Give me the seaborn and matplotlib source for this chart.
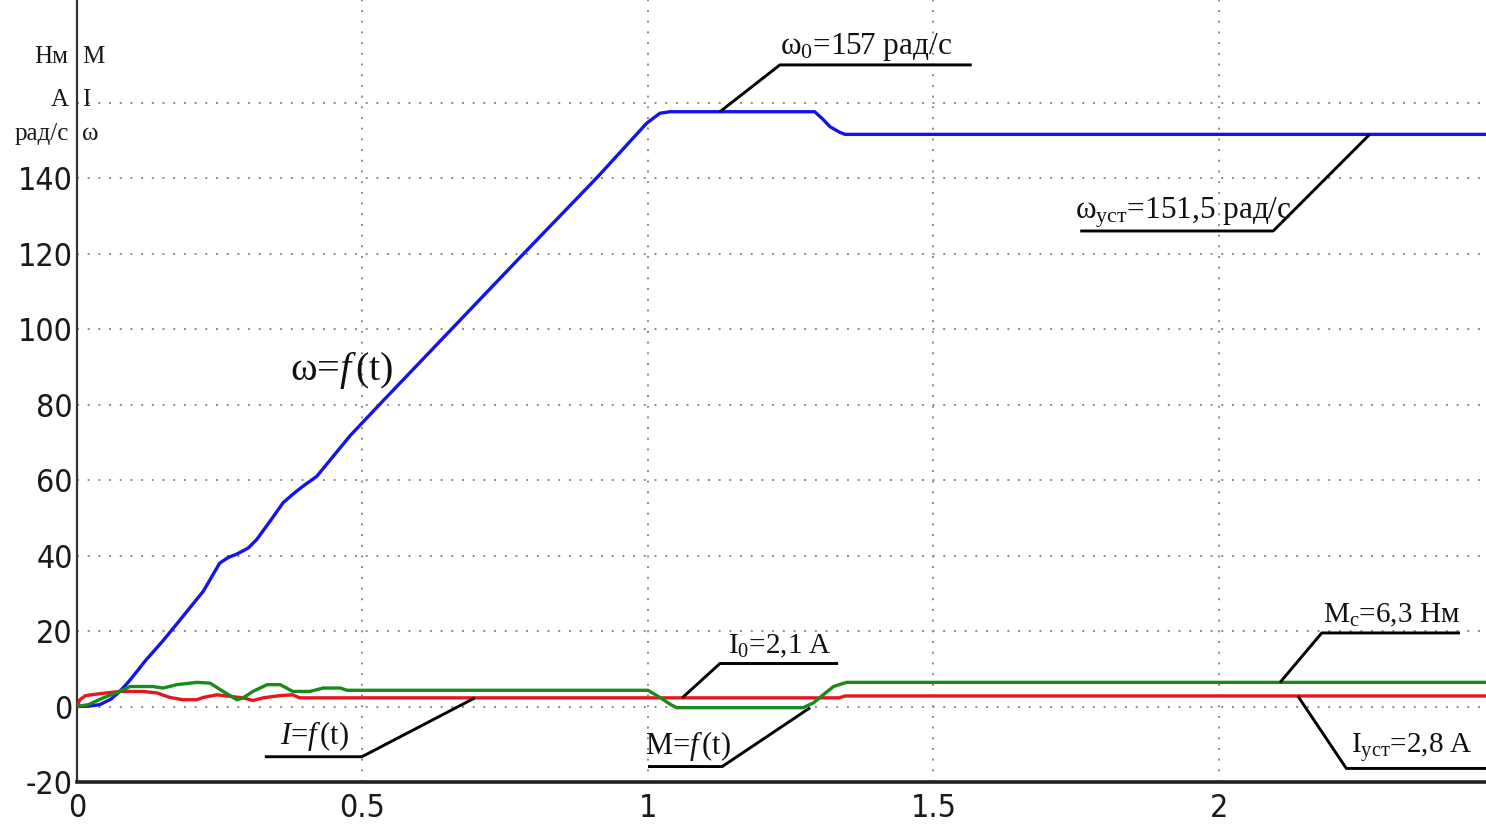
import matplotlib
matplotlib.use("Agg")
import matplotlib.pyplot as plt
import matplotlib.transforms as mtransforms
from matplotlib import font_manager
import numpy as np
import pandas as pd
import seaborn as sns

# ---------------- data ----------------
t_omega = [0, 0.02, 0.04, 0.06, 0.075, 0.09, 0.105, 0.119, 0.151, 0.17, 0.221, 0.25, 0.265,
           0.28, 0.30, 0.315, 0.34, 0.361, 0.38, 0.396, 0.42, 0.478, 0.531, 0.781, 0.911,
           0.998, 1.021, 1.039, 1.292, 1.305, 1.319, 1.335, 1.345, 2.47]
omega = [0, 0.1, 0.5, 2.0, 4.0, 6.5, 9.3, 12.0, 17.5, 21.0, 30.5, 38.0, 39.5,
         40.4, 42.0, 44.3, 49.5, 54.0, 56.5, 58.4, 61.0, 71.7, 80.2, 119.8, 140.2,
         154.6, 157.2, 157.6, 157.6, 155.8, 153.6, 152.2, 151.6, 151.6]

t_M = [0, 0.02, 0.046, 0.075, 0.093, 0.133, 0.151, 0.175, 0.21, 0.233, 0.256, 0.28, 0.291,
       0.308, 0.333, 0.356, 0.378, 0.408, 0.431, 0.461, 0.473, 1.0, 1.02, 1.04, 1.05,
       1.272, 1.29, 1.31, 1.325, 1.335, 1.348, 2.47]
M = [0, 0.5, 2.3, 4.0, 5.3, 5.3, 4.9, 5.8, 6.4, 6.2, 4.0, 1.8, 2.3,
     4.0, 5.8, 5.8, 4.0, 4.0, 4.9, 4.9, 4.3, 4.3, 2.5, 0.5, -0.3,
     -0.3, 1.0, 3.5, 5.3, 5.8, 6.4, 6.4]

t_I = [0, 0.005, 0.015, 0.04, 0.075, 0.116, 0.14, 0.163, 0.186, 0.21, 0.221, 0.245, 0.268,
       0.291, 0.308, 0.326, 0.356, 0.378, 0.39, 1.335, 1.345, 2.47]
I = [0, 1.8, 2.9, 3.4, 4.0, 4.0, 3.6, 2.4, 1.8, 1.8, 2.4, 3.1, 2.7,
     2.3, 1.6, 2.3, 2.9, 3.1, 2.3, 2.3, 2.8, 2.8]

x_ticks = [0, 0.5, 1, 1.5, 2]
x_tick_labels = ["0", "0.5", "1", "1.5", "2"]
y_ticks = [-20, 0, 20, 40, 60, 80, 100, 120, 140, 160]
y_tick_labels = ["-20", "0", "20", "40", "60", "80", "100", "120", "140", ""]

series_colors = {"omega": "#1414e6", "M": "#1a8a1a", "I": "#e8141e"}

df = pd.concat([
    pd.DataFrame({"t": t_omega, "v": omega, "s": "omega"}),
    pd.DataFrame({"t": t_M, "v": M, "s": "M"}),
    pd.DataFrame({"t": t_I, "v": I, "s": "I"}),
], ignore_index=True)

# ---------------- style ----------------
sns.set_style("white")
serif = ["Liberation Serif", "DejaVu Serif"]
plt.rcParams["font.family"] = serif
plt.rcParams["mathtext.fontset"] = "custom"
plt.rcParams["mathtext.rm"] = "Liberation Serif"
plt.rcParams["mathtext.it"] = "Liberation Serif:italic"

# narrow sans for tick labels
cond = [f for f in font_manager.fontManager.ttflist
        if f.name == "DejaVu Sans" and "ondensed" in f.fname and "Bold" not in f.fname
        and "Oblique" not in f.fname]
if cond:
    tick_font = font_manager.FontProperties(fname=cond[0].fname, size=23)
else:
    tick_font = font_manager.FontProperties(family="Liberation Sans", size=22)

fig = plt.figure(figsize=(14.86, 8.25), dpi=100)
ax = fig.add_axes([0.0518, 0.0521, 0.9482, 0.9479])

for s in ["omega", "I", "M"]:
    sub = df[df["s"] == s]
    sns.lineplot(data=sub, x="t", y="v", color=series_colors[s], lw=2.4,
                 estimator=None, sort=False, legend=False, ax=ax, zorder=3)

ax.set_xlim(0, 2.4676)
ax.set_ylim(-20, 187.2)
ax.set_xticks(x_ticks)
ax.set_xticklabels(x_tick_labels)
ax.set_yticks(y_ticks)
ax.set_yticklabels(y_tick_labels)
ax.set_xlabel("")
ax.set_ylabel("")

ax.grid(True, linestyle=(0, (1, 4.5)), color="#8a8a8a", lw=1.4)
ax.tick_params(axis="x", direction="in", length=10, width=1.3, color="#333333",
               pad=8, labelcolor="#1a1a1a")
ax.tick_params(axis="y", direction="in", length=8, width=2.0, color="#333333",
               pad=3, labelcolor="#1a1a1a")
for lab in ax.get_xticklabels() + ax.get_yticklabels():
    lab.set_fontproperties(tick_font)

for side in ["top", "right"]:
    ax.spines[side].set_visible(False)
ax.spines["left"].set_color("#333333")
ax.spines["left"].set_linewidth(1.6)
ax.spines["bottom"].set_color("#222222")
ax.spines["bottom"].set_linewidth(2.6)

# unit labels at top-left
blend = mtransforms.blended_transform_factory(ax.transAxes, ax.transData)
for left, right, yv in [("Нм", "М", 170.5), ("А", "I", 159.0), ("рад/с", "ω", 150.0)]:
    ax.text(-0.006, yv, left, transform=blend, ha="right", va="baseline",
            fontsize=18, color="#1a1a1a", clip_on=False)
    ax.text(0.0035, yv, right, transform=blend, ha="left", va="baseline",
            fontsize=18, color="#1a1a1a", clip_on=False)


def callout(text, tx, ty, pts, size):
    ax.text(tx, ty, text, ha="left", va="baseline", fontsize=size, color="#111111", zorder=5)
    xs, ys = zip(*pts)
    ax.plot(xs, ys, color="black", lw=2.1, zorder=4, solid_capstyle="butt", clip_on=False)


callout(r"ω$_0$=157 рад/с", 1.231, 172.8,
        [(1.126, 157.6), (1.231, 170.0), (1.567, 170.0)], 22.5)
callout(r"ω$_{\mathrm{уст}}$=151,5 рад/с", 1.748, 129.3,
        [(1.757, 126.0), (2.095, 126.0), (2.264, 151.6)], 22.5)
callout(r"I$_0$=2,1 A", 1.14, 14.0,
        [(1.06, 2.3), (1.126, 11.4), (1.333, 11.4)], 21)
callout(r"M=$\mathit{f}\,$(t)", 0.995, -12.6,
        [(1.284, -0.3), (1.13, -15.9), (1.0, -15.9)], 22)
callout(r"$\mathit{I}$=$\mathit{f}\,$(t)", 0.355, -10.0,
        [(0.697, 2.3), (0.499, -13.3), (0.329, -13.3)], 22)
callout(r"M$_{\mathrm{с}}$=6,3 Нм", 2.182, 22.2,
        [(2.107, 6.4), (2.18, 19.5), (2.422, 19.5)], 21)
callout(r"I$_{\mathrm{уст}}$=2,8 A", 2.232, -12.3,
        [(2.138, 2.8), (2.223, -16.4), (2.47, -16.4)], 21)

ax.text(0.373, 86.5, r"ω=$\mathit{f}\,$(t)", ha="left", va="baseline", fontsize=29,
        color="#111111", zorder=5)

fig.savefig("out.png", dpi=100, facecolor="white")
